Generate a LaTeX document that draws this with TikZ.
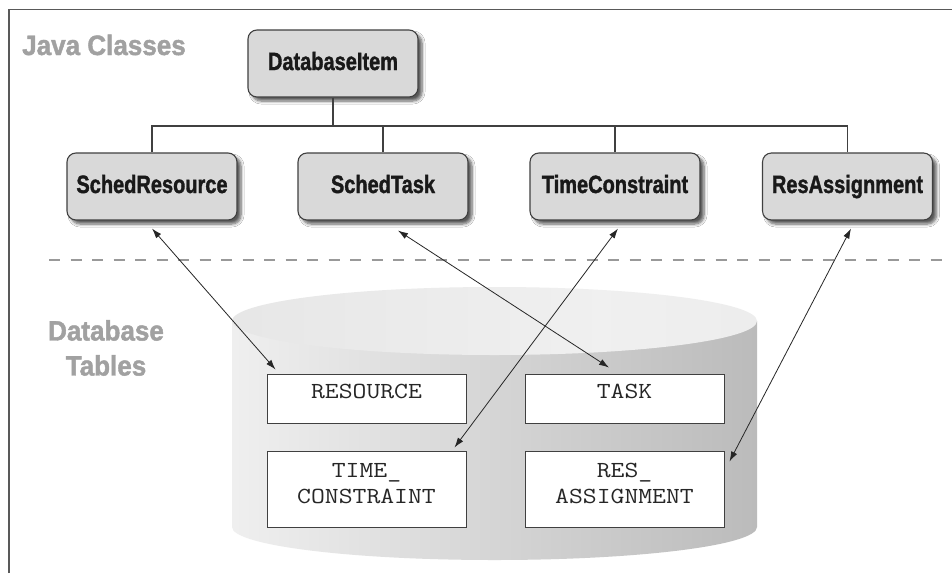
\documentclass[tikz,border=0pt]{standalone}
\usepackage{fontspec}
\usepackage{graphicx}
\newfontfamily\hel[BoldFeatures={FakeBold=1.6}]{Liberation Sans}
\usetikzlibrary{arrows.meta,shadows.blur}
\pgfdeclarehorizontalshading{cylbody}{100bp}{color(0bp)=(black!28); color(22bp)=(black!5); color(88bp)=(black!32); color(100bp)=(black!28)}
\pgfdeclarehorizontalshading{cyltop}{100bp}{color(0bp)=(black!12); color(60bp)=(black!6); color(100bp)=(black!9)}
\newcommand\cx[1]{\scalebox{0.8}[1]{#1}}
\newcommand\gx[1]{\scalebox{0.93}[1]{#1}}
\newcommand\mt[1]{\scalebox{1.17}[1]{#1}\strut}
\tikzset{
  cls/.style={draw=black!75, line width=1.1pt, fill=black!15, rounded corners=9pt,
    minimum width=170pt, minimum height=67pt, inner sep=0pt,
    text height=18pt, text depth=5pt,
    font=\hel\bfseries\fontsize{25}{30}\selectfont, text=black!90,
    blur shadow={shadow xshift=4pt, shadow yshift=-4pt, shadow blur radius=3pt,
      shadow blur steps=6, shadow opacity=65}},
  tbl/.style={draw=black!75, line width=1pt, fill=white, inner sep=0pt,
    font=\ttfamily\fontsize{23}{26}\selectfont, text=black!85},
  glabel/.style={inner sep=0pt, text=black!37, font=\hel\bfseries\fontsize{28}{35}\selectfont},
  tree/.style={draw=black!75, line width=1.1pt},
  conn/.style={draw=black!85, line width=0.8pt,
    arrows={Latex[length=10pt,width=6.5pt]-Latex[length=10pt,width=6.5pt]}},
  frameline/.style={draw=black!65, line width=1.5pt},
  dashline/.style={draw=black!40, line width=2.2pt, dash pattern=on 11pt off 10.5pt}
}
\begin{document}
\begin{tikzpicture}[x=1pt,y=-1pt]
\useasboundingbox (0,0) rectangle (952,573);
\fill[white] (0,0) rectangle (952,573);
% frame
\draw[frameline] (9,573) -- (9,9.5) -- (952,9.5);
% dashed separator
\draw[dashline] (49,260) -- (952,260);
% labels
\node[glabel, anchor=base west] (jc) at (22,55) {\gx{Java Classes}};
\node[glabel, anchor=north, align=center] (dt) at (106,320) {\gx{Database}\\\gx{Tables}};
% cylinder
\shade[shading=cylbody] (232,321) -- (232,527) arc[start angle=180, end angle=0, x radius=262.5, y radius=33] -- (757,321) -- cycle;
\shade[shading=cyltop] (494.5,321) ellipse [x radius=262.5, y radius=34];
% classes
\node[cls] (db) at (333,63.5) {\cx{DatabaseItem}};
\node[cls] (sr) at (152,186.5) {\cx{SchedResource}};
\node[cls] (st) at (383,186.5) {\cx{SchedTask}};
\node[cls] (tc) at (615,186.5) {\cx{TimeConstraint}};
\node[cls] (ra) at (847.5,186.5) {\cx{ResAssignment}};
% tree
\coordinate (bus) at (333,126);
\draw[tree] (db.south) -- (bus);
\draw[tree] (sr.north) |- (bus);
\draw[tree] (st.north) |- (bus);
\draw[tree] (tc.north) |- (bus);
\draw[tree] (ra.north) |- (bus);
% tables
\node[tbl] (res) at (366.5,398.5) {\parbox[c][49pt][t]{199pt}{\vspace*{6.5pt}\centering\mt{RESOURCE}}};
\node[tbl] (task) at (624.5,398.5) {\parbox[c][49pt][t]{199pt}{\vspace*{6.5pt}\centering\mt{TASK}}};
\node[tbl] (tcon) at (366.5,489) {\parbox[c][76pt][t]{199pt}{\vspace*{7.8pt}\centering\mt{TIME\_}\\\mt{CONSTRAINT}}};
\node[tbl] (rasg) at (624.5,489) {\parbox[c][76pt][t]{199pt}{\vspace*{7.8pt}\centering\mt{RES\_}\\\mt{ASSIGNMENT}}};
% mapping arrows
\draw[conn] ([yshift=-8pt]sr.south) -- ([xshift=9pt,yshift=4pt]res.north west);
\draw[conn] ([xshift=15pt,yshift=-10pt]st.south) -- ([xshift=-15.5pt,yshift=6pt]task.north);
\draw[conn] ([xshift=3pt,yshift=-8pt]tc.south) -- ([xshift=-12pt,yshift=3pt]tcon.north east);
\draw[conn] ([xshift=3.5pt,yshift=-8pt]ra.south) -- ([xshift=5pt,yshift=-11pt]rasg.north east);
\end{tikzpicture}
\end{document}
